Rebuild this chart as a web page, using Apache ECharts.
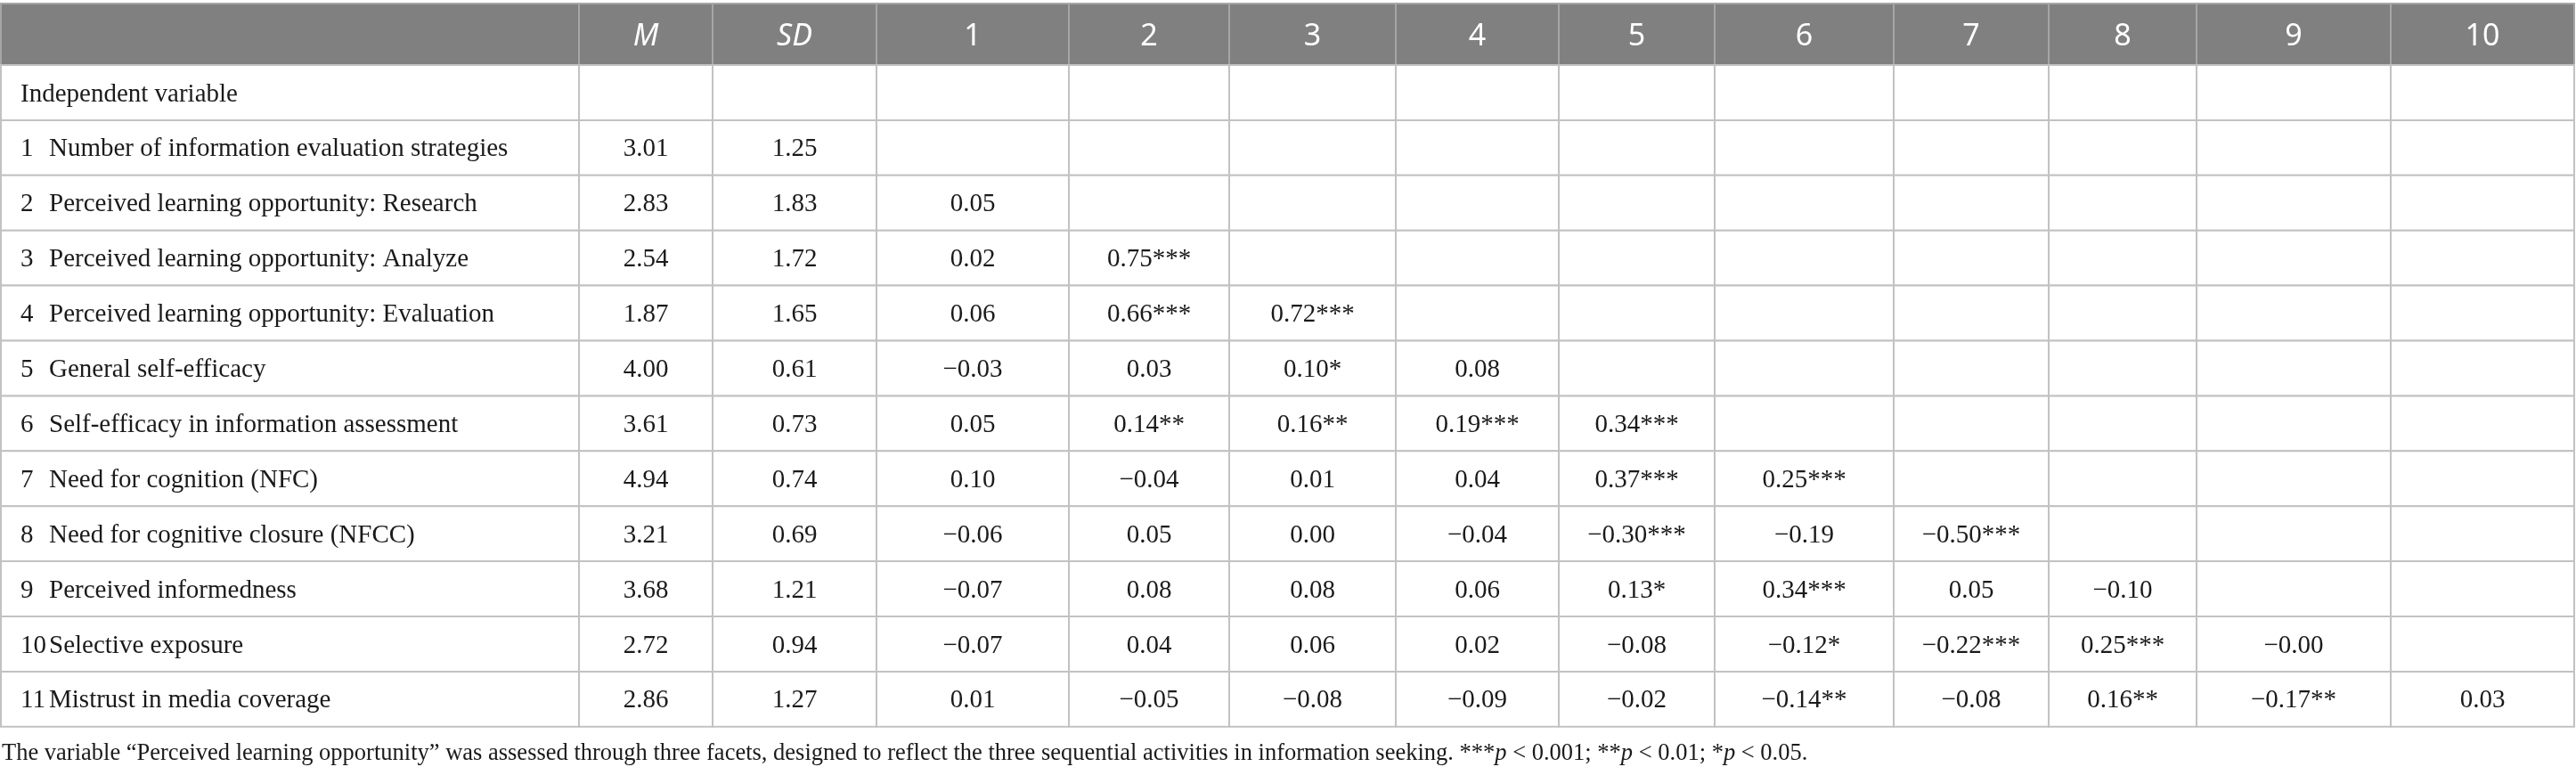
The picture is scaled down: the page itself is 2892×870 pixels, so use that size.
<!DOCTYPE html>
<html>
<head>
<meta charset="utf-8">
<script src="https://cdn.jsdelivr.net/npm/echarts@6/dist/echarts.min.js"></script>
<style>
html,body{margin:0;padding:0;background:#fff;}
#chart{width:2892px;height:870px;}
</style>
</head>
<body>
<div id="chart"></div>
<script>
// ---- data ----
const headers = ["", "M", "SD", "1", "2", "3", "4", "5", "6", "7", "8", "9", "10"];
const rowNumbers = ["", "1", "2", "3", "4", "5", "6", "7", "8", "9", "10", "11"];
const rowNames = [
  "Independent variable",
  "Number of information evaluation strategies",
  "Perceived learning opportunity: Research",
  "Perceived learning opportunity: Analyze",
  "Perceived learning opportunity: Evaluation",
  "General self-efficacy",
  "Self-efficacy in information assessment",
  "Need for cognition (NFC)",
  "Need for cognitive closure (NFCC)",
  "Perceived informedness",
  "Selective exposure",
  "Mistrust in media coverage"
];
const means = [null, 3.01, 2.83, 2.54, 1.87, 4.00, 3.61, 4.94, 3.21, 3.68, 2.72, 2.86];
const sds   = [null, 1.25, 1.83, 1.72, 1.65, 0.61, 0.73, 0.74, 0.69, 1.21, 0.94, 1.27];
const corr = [
  [], [],
  [0.05],
  [0.02, 0.75],
  [0.06, 0.66, 0.72],
  [-0.03, 0.03, 0.10, 0.08],
  [0.05, 0.14, 0.16, 0.19, 0.34],
  [0.10, -0.04, 0.01, 0.04, 0.37, 0.25],
  [-0.06, 0.05, 0.00, -0.04, -0.30, -0.19, -0.50],
  [-0.07, 0.08, 0.08, 0.06, 0.13, 0.34, 0.05, -0.10],
  [-0.07, 0.04, 0.06, 0.02, -0.08, -0.12, -0.22, 0.25, -0.00],
  [0.01, -0.05, -0.08, -0.09, -0.02, -0.14, -0.08, 0.16, -0.17, 0.03]
];
const stars = [
  [], [],
  [""],
  ["", "***"],
  ["", "***", "***"],
  ["", "", "*", ""],
  ["", "**", "**", "***", "***"],
  ["", "", "", "", "***", "***"],
  ["", "", "", "", "***", "", "***"],
  ["", "", "", "", "*", "***", "", ""],
  ["", "", "", "", "", "*", "***", "***", ""],
  ["", "", "", "", "", "**", "", "**", "**", ""]
];
const footnote = "The variable \u201cPerceived learning opportunity\u201d was assessed through three facets, designed to reflect the three sequential activities in information seeking. ***{i|p} < 0.001; **{i|p} < 0.01; *{i|p} < 0.05.";

// ---- layout (not data) ----
const colEdges = [0, 649, 799, 983, 1199, 1379, 1566, 1749, 1924, 2125, 2299, 2465, 2683, 2889];
const headerH = 69, rowH = 61.9;
const rowEdges = [0, headerH];
for (let i = 1; i <= rowNames.length; i++) rowEdges.push(headerH + i * rowH);

function fmt(v) {
  if (v === null || v === undefined) return "";
  const neg = v < 0 || Object.is(v, -0);
  return (neg ? "\u2212" : "") + Math.abs(v).toFixed(2);
}

// build cell list
const cells = [];
for (let c = 0; c < headers.length; c++) cells.push({ c: c, r: 0, text: headers[c], header: true });
for (let i = 0; i < rowNames.length; i++) {
  const r = i + 1;
  cells.push({ c: 0, r: r, text: rowNames[i], num: rowNumbers[i] });
  cells.push({ c: 1, r: r, text: fmt(means[i]) });
  cells.push({ c: 2, r: r, text: fmt(sds[i]) });
  for (let k = 0; k < 10; k++) {
    const row = corr[i] || [];
    const t = k < row.length ? fmt(row[k]) + (stars[i][k] || "") : "";
    cells.push({ c: 3 + k, r: r, text: t });
  }
}

const serif = "'Liberation Serif', 'Times New Roman', serif";
const sans = "'Noto Sans', 'Open Sans', sans-serif";
const bodyColor = '#1a1a1a';

function renderItem(params, api) {
  const cell = cells[params.dataIndex];
  const c = api.value(0), r = api.value(1);
  const p0 = api.coord([colEdges[c], rowEdges[r]]);
  const p1 = api.coord([colEdges[c + 1], rowEdges[r + 1]]);
  const x = p0[0], y = p0[1], w = p1[0] - p0[0], h = p1[1] - p0[1];
  const children = [{
    type: 'rect',
    shape: { x: x, y: y, width: w, height: h },
    style: {
      fill: cell.header ? '#808080' : '#ffffff',
      stroke: cell.header ? '#a6a6a6' : '#c2c2c2',
      lineWidth: 2
    }
  }];
  const cy = y + h / 2 + 2;
  if (cell.header) {
    children.push({
      type: 'text',
      style: {
        text: cell.text, x: x + w / 2, y: cy + 1, align: 'center', verticalAlign: 'middle',
        fill: '#ffffff', fontFamily: sans, fontSize: 34,
        fontStyle: (cell.c === 1 || cell.c === 2) ? 'italic' : 'normal'
      }
    });
  } else if (c === 0) {
    if (cell.num) {
      children.push({
        type: 'text',
        style: { text: cell.num, x: x + 22, y: cy, align: 'left', verticalAlign: 'middle',
          fill: bodyColor, fontFamily: serif, fontSize: 29 }
      });
    }
    children.push({
      type: 'text',
      style: { text: cell.text, x: x + (cell.num ? 54 : 22), y: cy,
        align: 'left', verticalAlign: 'middle', fill: bodyColor, fontFamily: serif, fontSize: 29 }
    });
  } else {
    children.push({
      type: 'text',
      style: { text: cell.text, x: x + w / 2, y: cy, align: 'center', verticalAlign: 'middle',
        fill: bodyColor, fontFamily: serif, fontSize: 29 }
    });
  }
  return { type: 'group', children: children };
}

const chart = echarts.init(document.getElementById('chart'), null, { renderer: 'canvas' });
chart.setOption({
  animation: false,
  backgroundColor: '#ffffff',
  title: {
    text: footnote,
    left: 2, top: 833,
    padding: 0,
    textStyle: {
      fontFamily: serif, fontSize: 26.5, fontWeight: 'normal', color: bodyColor,
      rich: { i: { fontFamily: serif, fontSize: 26.5, fontStyle: 'italic', color: bodyColor } }
    }
  },
  grid: { left: 1, top: 4, width: colEdges[colEdges.length - 1], height: rowEdges[rowEdges.length - 1] },
  xAxis: { type: 'value', min: 0, max: colEdges[colEdges.length - 1], show: false },
  yAxis: { type: 'value', min: 0, max: rowEdges[rowEdges.length - 1], inverse: true, show: false },
  series: [{
    type: 'custom',
    renderItem: renderItem,
    data: cells.map(function (d) { return [d.c, d.r]; }),
    silent: true
  }]
});
</script>
</body>
</html>
